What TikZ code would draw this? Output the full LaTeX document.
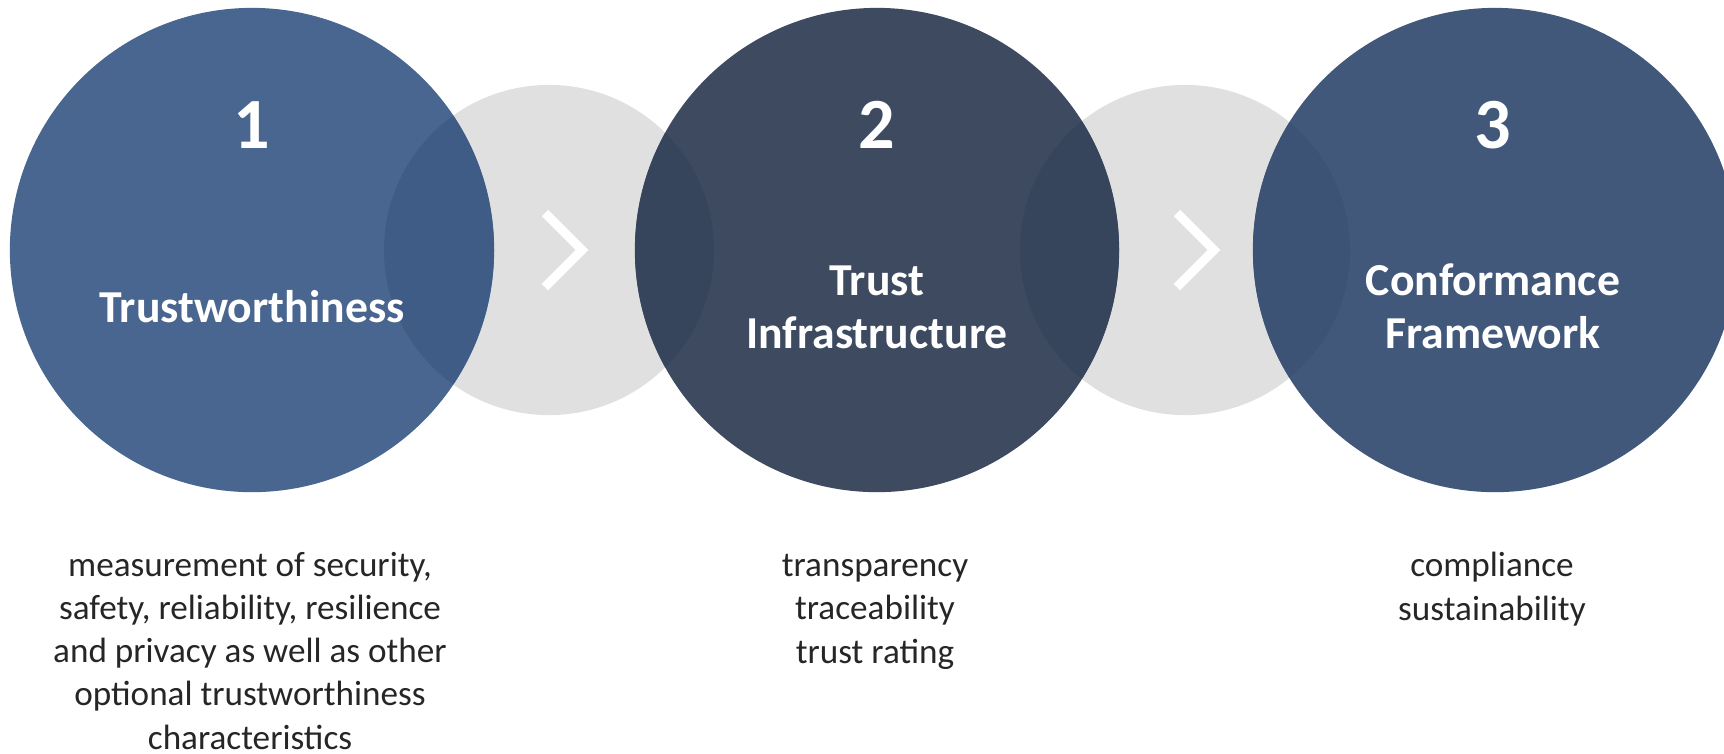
\documentclass[tikz,border=0pt]{standalone}
\usepackage{fontspec}
\setmainfont{Carlito}
\definecolor{stageA}{HTML}{48668F}
\definecolor{stageB}{HTML}{3D4A60}
\definecolor{stageC}{HTML}{42587A}
\definecolor{overA}{HTML}{3F5C86}
\definecolor{overB}{HTML}{36455C}
\definecolor{overC}{HTML}{3C5375}
\definecolor{linkgray}{HTML}{E0E0E0}
\definecolor{textgray}{HTML}{262626}

\begin{document}
\begin{tikzpicture}[x=0.01cm, y=-0.01cm,
    stage/.style={circle, minimum size=4.84cm, inner sep=0pt},
    link/.style={circle, fill=linkgray, minimum size=3.3cm, inner sep=0pt},
    num/.style={white, font=\bfseries\fontsize{20.5}{24}\selectfont},
    title/.style={white, align=center, font=\bfseries\fontsize{13}{15}\selectfont},
    desc/.style={text=textgray, align=center, inner sep=0pt, font=\fontsize{10}{12.3}\selectfont},
    chev/.style={draw=white, line width=0.09cm, miter limit=4}]
    \useasboundingbox (0,0) rectangle (1724,753);
    \clip (0,0) rectangle (1724,753);
    % grey links behind the stages
    \node [link] (g1) at (549,250) {};
    \node [link] (g2) at (1185,250) {};
    \node [stage, fill=stageA] (s1) at (252,250) {};
    \node [stage, fill=stageB] (s2) at (877,250) {};
    \node [stage, fill=stageC] (s3) at (1495,250) {};
    \begin{scope}
        \clip (g1.center) circle (165);
        \fill [overA] (s1.center) circle (242);
        \fill [overB] (s2.center) circle (242);
    \end{scope}
    \begin{scope}
        \clip (g2.center) circle (165);
        \fill [overB] (s2.center) circle (242);
        \fill [overC] (s3.center) circle (242);
    \end{scope}
    \draw [chev] ([shift={(-4,-37)}]g1.center) -- ([shift={(33,0)}]g1.center) -- ([shift={(-4,37)}]g1.center);
    \draw [chev] ([shift={(-8,-37)}]g2.center) -- ([shift={(29,0)}]g2.center) -- ([shift={(-8,37)}]g2.center);
    % numbers and titles
    \node [num] (n1) at (252,125) {1};
    \node [num] (n2) at (877,125) {2};
    \node [num] (n3) at (1493,125) {3};
    \node [title, anchor=base] (t1) at (252,322) {Trustworthiness};
    \node [title, anchor=base] (t2) at (877,348) {Trust\\Infrastructure};
    \node [title, anchor=base] (t3) at (1493,348) {Conformance\\Framework};
    % descriptions (base = last line)
    \node [desc, anchor=base] (d1) at (250,749) {measurement of security,\\safety, reliability, resilience\\and privacy as well as other\\optional trustworthiness\\characteristics};
    \node [desc, anchor=base] (d2) at (875,663) {transparency\\traceability\\trust rating};
    \node [desc, anchor=base] (d3) at (1492,620) {compliance\\sustainability};
\end{tikzpicture}
\end{document}
